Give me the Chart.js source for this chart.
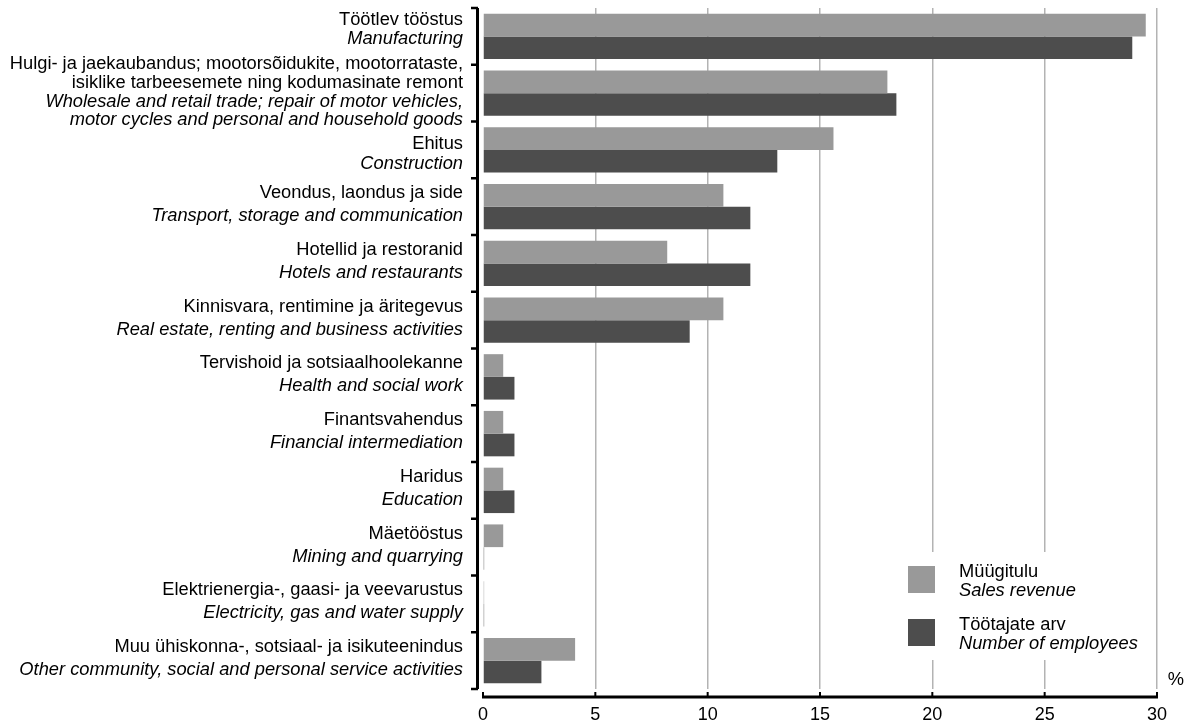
<!DOCTYPE html>
<html>
<head>
<meta charset="utf-8">
<script src="https://cdn.jsdelivr.net/npm/chart.js@4/dist/chart.umd.min.js"></script>
<style>
  html, body { margin: 0; padding: 0; background: #ffffff; }
  #wrap { width: 1184px; height: 724px; position: relative; }
</style>
</head>
<body>
<div id="wrap"><canvas id="c" width="1184" height="724"></canvas></div>
<script>
// ---- Data ----
const categoriesEt = [
  ['Töötlev tööstus'],
  ['Hulgi- ja jaekaubandus; mootorsõidukite, mootorrataste,', 'isiklike tarbeesemete ning kodumasinate remont'],
  ['Ehitus'],
  ['Veondus, laondus ja side'],
  ['Hotellid ja restoranid'],
  ['Kinnisvara, rentimine ja äritegevus'],
  ['Tervishoid ja sotsiaalhoolekanne'],
  ['Finantsvahendus'],
  ['Haridus'],
  ['Mäetööstus'],
  ['Elektrienergia-, gaasi- ja veevarustus'],
  ['Muu ühiskonna-, sotsiaal- ja isikuteenindus']
];
const categoriesEn = [
  ['Manufacturing'],
  ['Wholesale and retail trade; repair of motor vehicles,', 'motor cycles and personal and household goods'],
  ['Construction'],
  ['Transport, storage and communication'],
  ['Hotels and restaurants'],
  ['Real estate, renting and business activities'],
  ['Health and social work'],
  ['Financial intermediation'],
  ['Education'],
  ['Mining and quarrying'],
  ['Electricity, gas and water supply'],
  ['Other community, social and personal service activities']
];
const seriesEt = ['Müügitulu', 'Töötajate arv'];
const seriesEn = ['Sales revenue', 'Number of employees'];
const salesRevenue = [29.5, 18.0, 15.6, 10.7, 8.2, 10.7, 0.9, 0.9, 0.9, 0.9, 0.05, 4.1];
const employees    = [28.9, 18.4, 13.1, 11.9, 11.9, 9.2, 1.4, 1.4, 1.4, 0.05, 0.05, 2.6];
const xTicks = [0, 5, 10, 15, 20, 25, 30];
const unitLabel = '%';

// ---- Styles ----
const FONT = "'Liberation Sans', Arial, Helvetica, sans-serif";
const FS = 18.3;
const colors = ['#999999', '#4d4d4d'];

const customPlugin = {
  id: 'custom',
  afterDraw(chart) {
    const ctx = chart.ctx;
    const area = chart.chartArea;
    const xs = chart.scales.x;
    const ys = chart.scales.y;
    const n = categoriesEt.length;
    const band = (area.bottom - area.top) / n;
    ctx.save();

    // Left axis line with boundary ticks
    ctx.strokeStyle = '#000';
    ctx.lineWidth = 3;
    ctx.beginPath();
    ctx.moveTo(477.5, area.top);
    ctx.lineTo(477.5, area.bottom);
    ctx.stroke();
    ctx.lineWidth = 2.5;
    for (let i = 0; i <= n; i++) {
      const y = area.top + i * band;
      ctx.beginPath();
      ctx.moveTo(471, y);
      ctx.lineTo(478, y);
      ctx.stroke();
    }

    // Bottom axis line
    const yAx = 697;
    ctx.lineWidth = 3;
    ctx.beginPath();
    ctx.moveTo(xs.getPixelForValue(xTicks[0]) - 1, yAx);
    ctx.lineTo(xs.getPixelForValue(xTicks[xTicks.length - 1]) + 1, yAx);
    ctx.stroke();
    ctx.lineWidth = 2;
    xTicks.forEach(v => {
      const x = xs.getPixelForValue(v);
      ctx.beginPath();
      ctx.moveTo(x, yAx);
      ctx.lineTo(x, yAx - 5);
      ctx.stroke();
    });

    // Category labels
    ctx.fillStyle = '#000';
    ctx.textAlign = 'right';
    ctx.textBaseline = 'middle';
    const lineCount = i => categoriesEt[i].length + categoriesEn[i].length;
    for (let i = 0; i < n; i++) {
      const c = ys.getPixelForValue(i);
      const lines = categoriesEt[i].map(t => [t, false]).concat(categoriesEn[i].map(t => [t, true]));
      const cnt = lines.length;
      let gap = 23, mid = -2;
      if (cnt > 2) { gap = 18.7; mid = -1; }
      else if (i + 1 < n && lineCount(i + 1) > 2) { gap = 19; mid = -7; }
      else if (i > 0 && lineCount(i - 1) > 2) { gap = 20; mid = 4.5; }
      lines.forEach((ln, k) => {
        ctx.font = (ln[1] ? 'italic ' : '') + FS + 'px ' + FONT;
        ctx.fillText(ln[0], 463, c + mid + (k - (cnt - 1) / 2) * gap);
      });
    }

    // Legend
    ctx.fillStyle = '#fff';
    ctx.fillRect(898, 552, 254, 108);
    const legTop = [566, 619];
    ctx.textAlign = 'left';
    for (let s = 0; s < 2; s++) {
      ctx.fillStyle = colors[s];
      ctx.fillRect(908, legTop[s], 27, 27);
      ctx.fillStyle = '#000';
      ctx.font = FS + 'px ' + FONT;
      ctx.fillText(seriesEt[s], 959, legTop[s] + 6);
      ctx.font = 'italic ' + FS + 'px ' + FONT;
      ctx.fillText(seriesEn[s], 959, legTop[s] + 25);
    }

    // Unit
    ctx.font = FS + 'px ' + FONT;
    ctx.textAlign = 'center';
    ctx.fillText(unitLabel, 1176, 680);
    ctx.restore();
  }
};

new Chart(document.getElementById('c'), {
  type: 'bar',
  data: {
    labels: categoriesEn.map(l => l.join(' ')),
    datasets: [
      { label: seriesEt[0] + ' / ' + seriesEn[0], data: salesRevenue, backgroundColor: colors[0] },
      { label: seriesEt[1] + ' / ' + seriesEn[1], data: employees, backgroundColor: colors[1] }
    ]
  },
  options: {
    indexAxis: 'y',
    responsive: false,
    animation: false,
    events: [],
    layout: { padding: { left: 483, right: 21, top: 8, bottom: -17 } },
    datasets: { bar: { categoryPercentage: 0.8, barPercentage: 1.0, borderWidth: 0 } },
    plugins: { legend: { display: false }, tooltip: { enabled: false } },
    scales: {
      x: {
        type: 'linear',
        min: 0, max: 30,
        afterBuildTicks: axis => { axis.ticks = xTicks.map(v => ({ value: v })); },
        border: { display: false },
        grid: {
          drawTicks: false,
          tickLength: 0,
          lineWidth: 1.5,
          color: c => (c.tick && c.tick.value === 0) ? 'rgba(0,0,0,0)' : '#b3b3b3'
        },
        ticks: {
          padding: 17,
          color: '#000',
          font: { family: FONT, size: 18, lineHeight: 1 }
        }
      },
      y: {
        display: false,
        grid: { display: false }
      }
    }
  },
  plugins: [customPlugin]
});
</script>
</body>
</html>
